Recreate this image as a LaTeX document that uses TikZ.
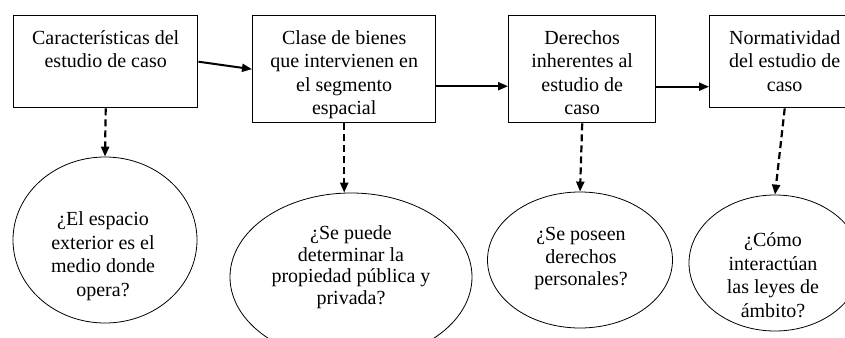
\documentclass[tikz,border=0pt]{standalone}
\usepackage{fontspec}
\setmainfont{Liberation Serif}
\usetikzlibrary{arrows.meta,shapes.geometric}

\begin{document}
\begin{tikzpicture}[x=1pt,y=-1pt,
  box/.style={draw,line width=1.4pt,rectangle,inner sep=0pt,anchor=north west},
  qell/.style={draw,line width=0.8pt,ellipse,inner sep=0pt},
  txt/.style={align=center,inner sep=0pt,font=\fontsize{20}{23.5}\selectfont},
  link/.style={line width=2pt,-{Triangle[length=10pt,width=8pt]}},
  dlink/.style={line width=2.2pt,dash pattern=on 7pt off 4pt,-{Triangle[length=10pt,width=8pt]}}]
  \useasboundingbox (0,0) rectangle (845,337);

  % Boxes
  \node[box,minimum width=184pt,minimum height=92pt] (b1) at (13,15) {};
  \node[box,minimum width=183pt,minimum height=107pt] (b2) at (252,15) {};
  \node[box,minimum width=147pt,minimum height=107pt] (b3) at (508,15) {};
  \node[box,minimum width=150pt,minimum height=92pt] (b4) at (709,15) {};

  \node[txt,anchor=north] (b1t) at ([yshift=-15pt]b1.north) {Características del\\estudio de caso};
  \node[txt,anchor=north] (b2t) at ([yshift=-15pt]b2.north) {Clase de bienes\\que intervienen en\\el segmento\\espacial};
  \node[txt,anchor=north] (b3t) at ([yshift=-15pt]b3.north) {Derechos\\inherentes al\\estudio de\\caso};
  \node[txt,anchor=north] (b4t) at ([yshift=-15pt]b4.north) {Normatividad\\del estudio de\\caso};

  % Questions
  \node[qell,minimum width=184pt,minimum height=166pt] (q1) at (105,240) {};
  \node[qell,minimum width=242pt,minimum height=168pt] (q2) at (351,277) {};
  \node[qell,minimum width=185pt,minimum height=136pt] (q3) at (580,260) {};
  \node[qell,minimum width=172pt,minimum height=136pt] (q4) at (775,263) {};

  \node[txt] (q1t) at (103,256) {¿El espacio\\exterior es el\\medio donde\\opera?};
  \node[txt,font=\fontsize{20}{21.5}\selectfont] (q2t) at (351,267) {¿Se puede\\determinar la\\propiedad pública y\\privada?};
  \node[txt,font=\fontsize{20}{22.5}\selectfont] (q3t) at (581,259) {¿Se poseen\\derechos\\personales?};
  \node[txt] (q4t) at (773,275) {¿Cómo\\interactúan\\las leyes de\\ámbito?};

  % Connectors
  \draw[link] (b1.east) -- (b2.west);
  \draw[link] ([yshift=-17pt]b2.east) -- ([yshift=-17pt]b2.east -| b3.west);
  \draw[link] ([yshift=-17.5pt]b3.east) -- ([yshift=-17.5pt]b3.east -| b4.west);

  \draw[dlink] (b1.south) -- (q1.north);
  \draw[dlink] (b2.south) -- (b2.south |- q2.north);
  \draw[dlink] (b3.south) -- (q3.north);
  \draw[dlink] (b4.south) -- (q4.north);
\end{tikzpicture}
\end{document}
